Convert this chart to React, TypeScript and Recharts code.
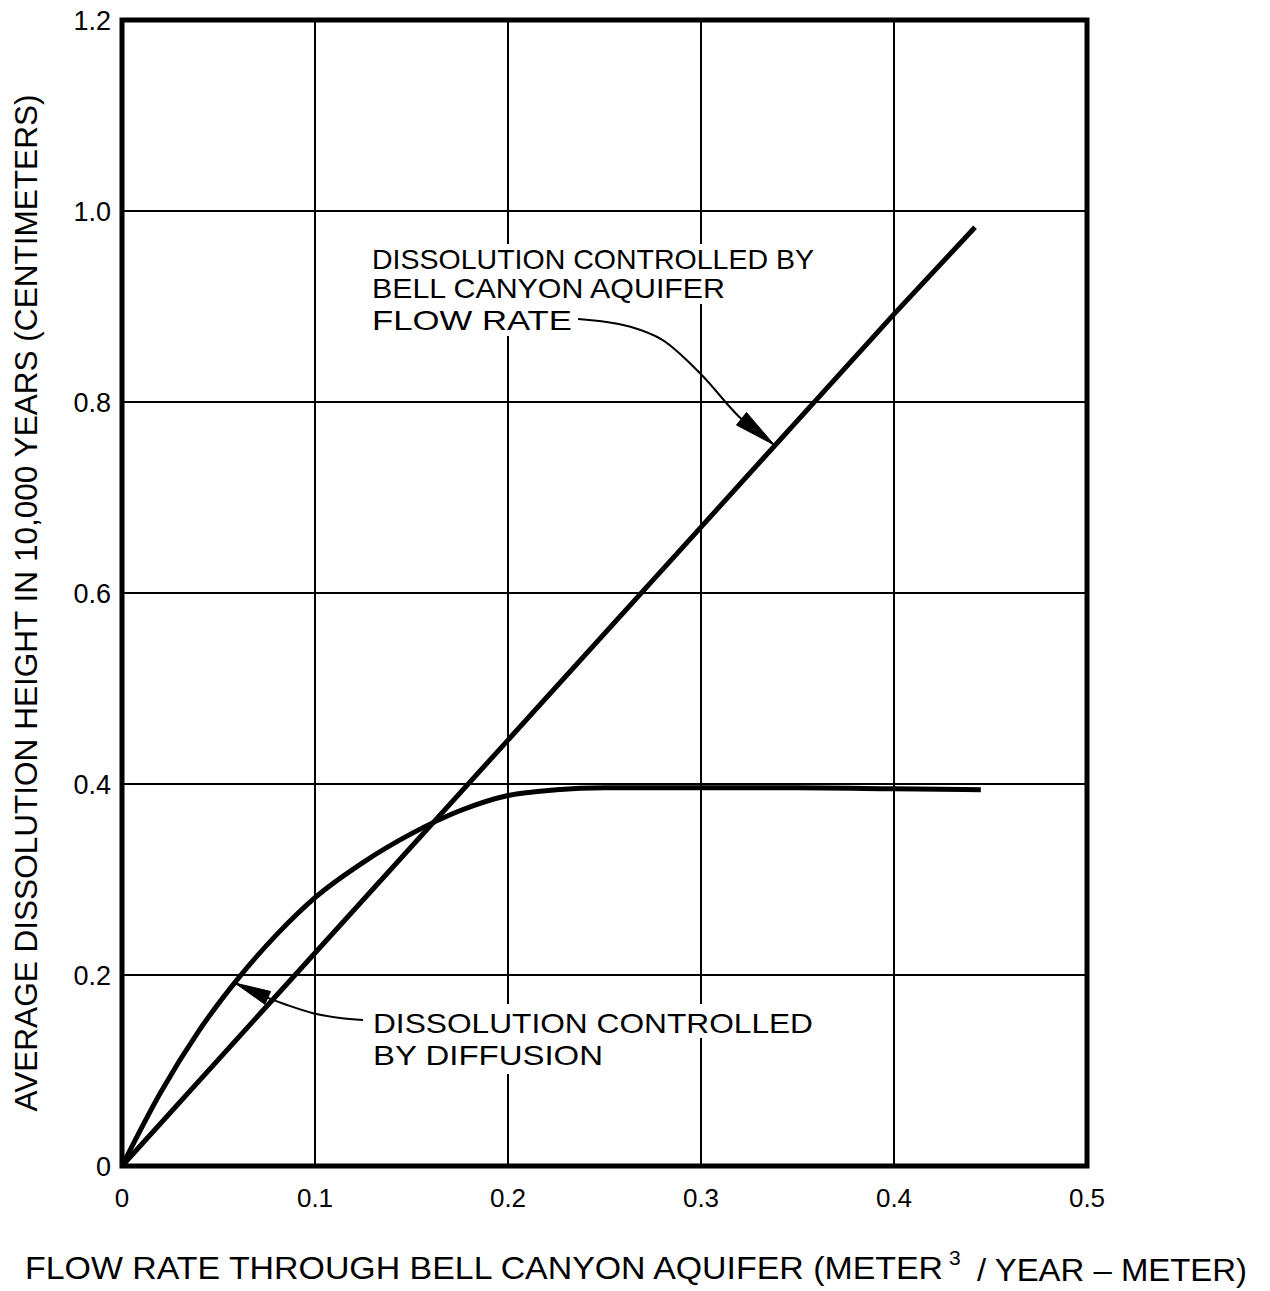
import {
  ComposedChart,
  Line,
  XAxis,
  YAxis,
  CartesianGrid,
  ReferenceArea,
  Customized,
} from 'recharts'

// values
const X_TICKS = [0, 0.1, 0.2, 0.3, 0.4, 0.5]
const Y_TICKS = [0, 0.2, 0.4, 0.6, 0.8, 1.0, 1.2]

// dissolution controlled by Bell Canyon aquifer flow rate (straight line)
const flowX = [0, 0.1, 0.2, 0.3, 0.4, 0.442]
const flowY = [0, 0.223, 0.446, 0.669, 0.892, 0.983]

// dissolution controlled by diffusion
const diffX = [0, 0.02, 0.04, 0.06, 0.08, 0.1, 0.125, 0.15, 0.175, 0.2, 0.225, 0.25, 0.3, 0.35, 0.4, 0.445]
const diffY = [0, 0.077, 0.142, 0.196, 0.242, 0.281, 0.318, 0.348, 0.372, 0.388, 0.394, 0.396, 0.396, 0.396, 0.395, 0.394]

// leader lines of the two callouts
const leadFlowX = [0.2363, 0.263, 0.28, 0.3005, 0.32, 0.338]
const leadFlowY = [0.887, 0.879, 0.865, 0.828, 0.784, 0.755]
const leadDiffX = [0.0585, 0.0756, 0.0855, 0.099, 0.113, 0.1249]
const leadDiffY = [0.1916, 0.176, 0.1686, 0.16, 0.155, 0.153]

const W = 1270
const H = 1291
const M = { top: 20, right: 183, bottom: 95, left: 62 }
const PLOT_W = W - 122 - M.right
const PLOT_H = H - M.top - 125
const PX_X = PLOT_W / 0.5
const PX_Y = PLOT_H / 1.2
const FONT = '"Liberation Sans", Arial, sans-serif'

const toPts = (xs: number[], ys: number[]) => xs.map((x, i) => ({ x, y: ys[i] }))

const flowData = toPts(flowX, flowY)
const diffData = toPts(diffX, diffY)
const leadFlow = toPts(leadFlowX, leadFlowY)
const leadDiff = toPts(leadDiffX, leadDiffY)

// arrowhead drawn at the tip point of a leader line
const arrowDot =
  (pts: { x: number; y: number }[], tip: number, from: number, len: number, half: number) =>
  (props: any) => {
    const { cx, cy, index } = props
    if (index !== tip) return <g key={`d${index}`} />
    const dx = (pts[tip].x - pts[from].x) * PX_X
    const dy = -(pts[tip].y - pts[from].y) * PX_Y
    const l = Math.hypot(dx, dy)
    const ux = dx / l
    const uy = dy / l
    const bx = cx - ux * len
    const by = cy - uy * len
    const p = `${cx},${cy} ${bx - uy * half},${by + ux * half} ${bx + uy * half},${by - ux * half}`
    return <polygon key={`d${index}`} points={p} fill="#000" stroke="#000" strokeWidth={1} />
  }

// white boxes behind the callout text break the grid lines, as on the original
const Gaps = () => (
  <g fill="#fff">
    <rect x={366} y={244} width={456} height={30} />
    <rect x={366} y={274} width={366} height={30} />
    <rect x={366} y={304} width={212} height={32} />
    <rect x={367} y={1004} width={452} height={34} />
    <rect x={367} y={1038} width={242} height={36} />
  </g>
)

const Texts = () => (
  <g fontFamily={FONT} fill="#000">
    <text x={372} y={269} fontSize={28} textLength={442} lengthAdjust="spacingAndGlyphs">
      DISSOLUTION CONTROLLED BY
    </text>
    <text x={372} y={298} fontSize={28} textLength={353} lengthAdjust="spacingAndGlyphs">
      BELL CANYON AQUIFER
    </text>
    <text x={372} y={330} fontSize={28} textLength={200} lengthAdjust="spacingAndGlyphs">
      FLOW RATE
    </text>
    <text x={373} y={1033} fontSize={28} textLength={440} lengthAdjust="spacingAndGlyphs">
      DISSOLUTION CONTROLLED
    </text>
    <text x={373} y={1065} fontSize={28} textLength={230} lengthAdjust="spacingAndGlyphs">
      BY DIFFUSION
    </text>
    <text x={25} y={1279} fontSize={32} textLength={918} lengthAdjust="spacingAndGlyphs">
      FLOW RATE THROUGH BELL CANYON AQUIFER (METER
    </text>
    <text x={949} y={1265} fontSize={21}>
      3
    </text>
    <text x={977} y={1281} fontSize={32} textLength={270} lengthAdjust="spacingAndGlyphs">
      / YEAR – METER)
    </text>
    <text
      x={37}
      y={603}
      fontSize={32}
      textAnchor="middle"
      textLength={1017}
      lengthAdjust="spacingAndGlyphs"
      transform="rotate(-90, 37, 603)"
    >
      AVERAGE DISSOLUTION HEIGHT IN 10,000 YEARS (CENTIMETERS)
    </text>
  </g>
)

const fmt = (v: number) => (v === 0 ? '0' : v.toFixed(1))

export default function App() {
  return (
    <div style={{ position: 'absolute', left: 0, top: 0, background: '#fff' }}>
      <ComposedChart width={W} height={H} margin={M}>
        <CartesianGrid stroke="#000" strokeWidth={2} />
        <XAxis
          dataKey="x"
          type="number"
          domain={[0, 0.5]}
          ticks={X_TICKS}
          tickFormatter={fmt}
          axisLine={false}
          tickLine={false}
          tickSize={0}
          tickMargin={23}
          tick={{ fontSize: 26, fill: '#000', fontFamily: FONT }}
          height={30}
        />
        <YAxis
          type="number"
          domain={[0, 1.2]}
          ticks={Y_TICKS}
          tickFormatter={fmt}
          axisLine={false}
          tickLine={false}
          tickSize={0}
          tickMargin={11}
          tick={{ fontSize: 27, fill: '#000', fontFamily: FONT }}
          width={60}
        />
        <Customized component={Gaps} />
        <ReferenceArea x1={0} x2={0.5} y1={0} y2={1.2} fill="none" stroke="#000" strokeWidth={5} />
        <Line data={flowData} dataKey="y" type="linear" stroke="#000" strokeWidth={5} dot={false} isAnimationActive={false} />
        <Line data={diffData} dataKey="y" type="monotone" stroke="#000" strokeWidth={5} dot={false} isAnimationActive={false} />
        <Line
          data={leadFlow}
          dataKey="y"
          type="monotone"
          stroke="#000"
          strokeWidth={2}
          dot={arrowDot(leadFlow, 5, 4, 42, 8)}
          isAnimationActive={false}
        />
        <Line
          data={leadDiff}
          dataKey="y"
          type="monotone"
          stroke="#000"
          strokeWidth={2}
          dot={arrowDot(leadDiff, 0, 1, 36, 7)}
          isAnimationActive={false}
        />
        <Customized component={Texts} />
      </ComposedChart>
    </div>
  )
}
